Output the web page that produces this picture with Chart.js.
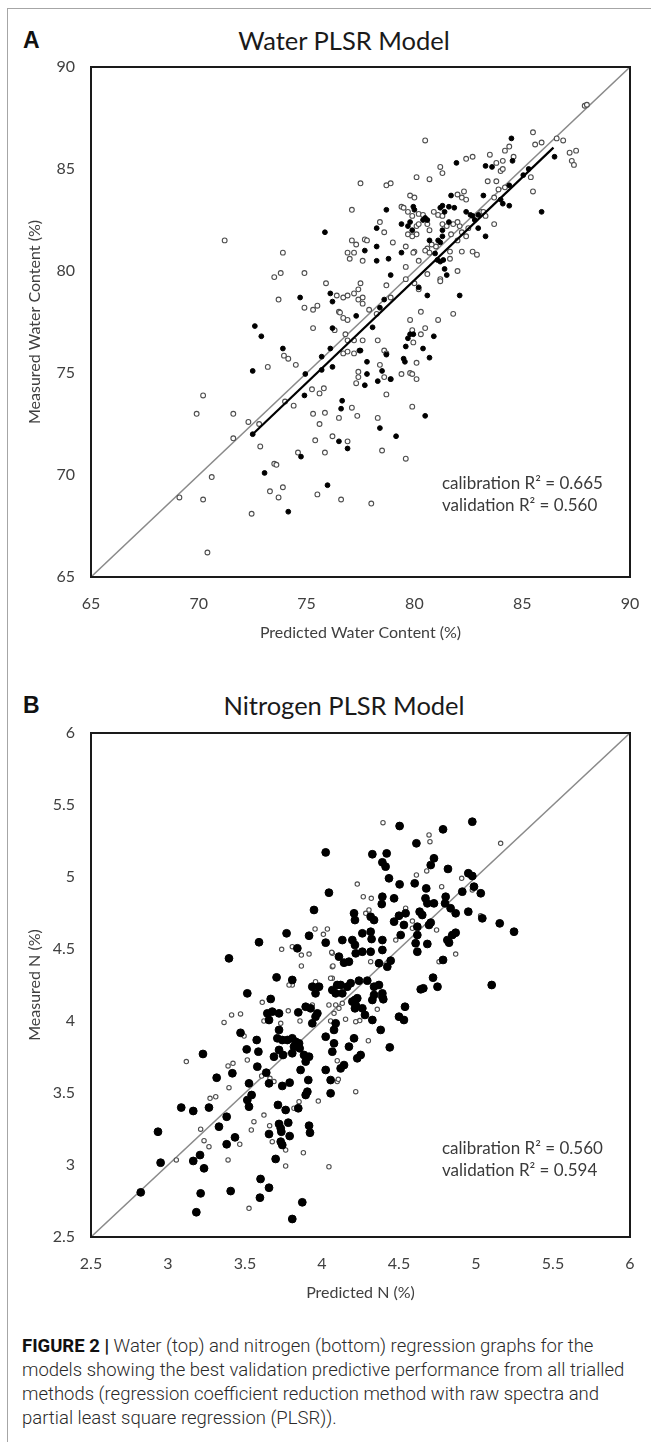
<!DOCTYPE html>
<html>
<head>
<meta charset="utf-8">
<title>Water and nitrogen PLSR models</title>
<script src="https://cdn.jsdelivr.net/npm/chart.js@4.4.1/dist/chart.umd.min.js"></script>
<style>
  html, body { margin: 0; padding: 0; background: #fff; }
  body { width: 651px; height: 1442px; position: relative; overflow: hidden; font-family: Lato, "Open Sans", sans-serif; }
  .frame { position: absolute; left: 7px; top: 8px; width: 700px; height: 1500px; border: 1.5px solid #a6a6a6; }
  .panel { position: absolute; left: 23px; font-family: "Liberation Sans", Arial, sans-serif; font-weight: bold; font-size: 23px; color: #111; }
  .title { position: absolute; left: 194px; width: 300px; text-align: center; font-size: 25.5px; color: #1a1a1a; line-height: 28px; }
  canvas { position: absolute; left: 0; }
  .note { position: absolute; left: 442px; font-size: 17px; line-height: 22px; color: #3a3a3a; white-space: nowrap; }
  .caption { position: absolute; left: 22px; top: 1334px; font-family: Roboto, sans-serif; font-weight: 300; font-size: 18.5px; line-height: 24px; color: #2a2a2a; white-space: nowrap; }
  .caption b { font-weight: 700; color: #111; }
</style>
</head>
<body>
<div class="frame"></div>

<div class="panel" style="top:27px">A</div>
<div class="title" style="top:26px">Water PLSR Model</div>
<canvas id="waterChart" width="651" height="660" style="top:0"></canvas>
<div class="note" style="top:472px">calibration R² = 0.665<br>validation R² = 0.560</div>

<div class="panel" style="top:692px">B</div>
<div class="title" style="top:691px">Nitrogen PLSR Model</div>
<canvas id="nitrogenChart" width="651" height="660" style="top:660px"></canvas>
<div class="note" style="top:1137px">calibration R² = 0.560<br>validation R² = 0.594</div>

<div class="caption"><b>FIGURE 2 |</b> Water (top) and nitrogen (bottom) regression graphs for the<br>models showing the best validation predictive performance from all trialled<br>methods (regression coefficient reduction method with raw spectra and<br>partial least square regression (PLSR)).</div>

<script>
// tick values
const waterTicks = [65, 70, 75, 80, 85, 90];
const nitroTicks = [2.5, 3, 3.5, 4, 4.5, 5, 5.5, 6];

// water panel: [predicted, measured]
const waterOpen = [
  [71.2,81.5],[77.1,83.0],[73.9,80.9],[73.8,79.9],[73.5,79.7],[74.9,79.9],[75.9,79.4],[73.7,78.6],
  [74.9,78.2],[75.3,78.1],[75.5,78.3],[76.4,78.8],[76.7,78.7],[76.9,78.8],[77.1,81.5],[77.3,81.3],
  [76.9,80.9],[77.2,80.9],[77.0,80.6],[77.5,79.4],[77.4,79.1],[77.5,84.3],
  [87.9,88.1],[88.0,88.15],[80.5,86.4],[85.5,86.8],[85.6,86.2],[85.9,86.3],[86.6,86.5],[86.9,86.4],
  [87.2,85.8],[87.5,85.9],[87.3,85.4],[87.4,85.2],[84.2,85.9],[84.4,86.1],[83.5,85.7],[84.1,85.4],
  [84.6,85.6],[83.8,85.3],[84.0,84.9],[84.1,85.0],[82.4,85.5],[82.7,85.6],[81.2,85.1],[81.3,84.8],
  [80.1,84.6],[80.7,84.5],[78.7,84.2],[78.9,84.3],[83.4,84.4],[83.8,84.4],[84.2,84.1],[83.9,84.0],
  [85.4,84.6],[85.5,83.9],[83.7,83.6],[79.8,83.7],[80.0,83.6],[82.0,83.75],[82.3,83.9],[82.2,83.6],
  [82.4,83.5],[79.4,83.15],[79.5,83.1],[79.7,82.9],[79.9,82.7],[80.2,82.8],[80.4,82.75],[80.9,82.9],
  [81.1,82.75],[81.3,82.7],[78.4,82.4],[78.6,81.9],[80.1,82.2],[80.2,82.3],[80.6,82.3],[80.7,82.0],
  [79.7,81.8],[80.1,81.8],[79.9,81.7],[81.3,82.3],[81.5,82.2],[81.8,82.3],[82.1,82.2],[82.0,82.4],
  [81.7,81.8],[83.1,82.9],[83.2,82.9],[83.3,82.7],[83.7,82.3],[82.5,82.1],[82.2,81.9],[82.4,81.7],
  [82.0,81.5],[81.0,81.2],[80.8,81.3],[80.6,81.1],[77.7,81.55],[77.8,81.5],[77.6,80.5],
  [79.0,81.4],[79.6,81.2],[80.0,80.95],[80.2,80.5],[79.6,80.2],[79.95,80.9],[80.5,81.0],[80.7,80.9],
  [81.65,80.95],[81.65,80.6],[82.2,80.95],[82.7,80.95],[82.9,80.8],[82.0,80.0],[81.2,79.6],
  [78.7,79.3],[79.6,79.6],[80.0,79.4],[80.2,79.1],[80.6,79.85],[81.2,79.5],[78.9,78.7],[77.2,78.9],
  [77.6,78.7],[76.5,78.0],[77.6,78.4],[77.9,78.1],[78.25,77.9],[77.4,78.6],
  [80.3,78.0],[79.8,77.6],[81.1,77.6],[81.8,77.9],
  [70.4,66.2],[69.1,68.9],[70.2,68.8],[72.45,68.1],[70.6,69.9],[70.2,73.9],[69.9,73.0],[71.6,73.0],
  [71.6,71.8],[72.3,72.6],[72.8,72.5],[72.85,71.4],[73.5,70.55],[73.6,70.5],[73.3,69.2],[73.9,69.4],
  [73.7,68.9],[75.5,69.05],[76.6,68.8],[74.6,71.1],[75.85,71.1],[75.4,71.7],[76.9,71.65],[76.2,71.9],
  [75.6,72.5],[75.3,73.0],[75.85,73.05],[76.5,72.8],[77.1,73.3],[77.35,72.9],[75.25,74.2],[75.8,74.25],
  [75.6,74.0],[74.4,73.4],[74.0,73.6],[77.3,74.5],[77.4,74.8],[73.2,75.3],[74.5,75.4],[73.95,75.85],
  [74.15,75.7],[75.3,77.2],[76.3,77.1],[76.55,77.96],[76.7,77.7],[76.9,77.6],[76.8,76.9],[76.9,76.6],
  [76.7,75.96],[76.9,76.05],[77.2,75.96],[77.2,76.6],
  [80.5,77.2],[80.3,76.9],[79.9,77.1],[79.95,76.5],[80.1,75.5],[79.4,74.95],[79.8,75.0],[79.9,74.95],
  [80.1,74.7],[78.7,73.95],[78.4,75.4],[78.6,74.8],[78.9,74.7],[78.3,76.6],[78.6,76.1],[78.7,75.96],
  [77.4,75.06],[77.6,76.6],[78.3,72.8],[78.5,71.2],[79.6,70.8],[79.9,73.35],[78.0,68.6]
];
const waterFilled = [
  [75.85,81.9],[74.7,78.7],[76.2,78.5],
  [84.5,86.5],[86.5,85.6],[84.55,85.4],[83.3,85.15],[83.6,85.1],[81.95,85.3],[84.4,84.2],[85.05,84.7],
  [85.3,85.0],[83.2,83.7],[84.0,83.5],[84.1,83.3],[84.4,83.2],[85.9,82.9],[81.7,83.7],[81.3,83.2],
  [81.2,83.1],[81.4,82.9],[81.6,83.15],[81.85,83.1],[79.95,83.15],[80.0,83.0],[80.5,82.6],[80.4,82.5],
  [80.6,82.5],[78.7,83.0],[79.4,82.3],[79.8,82.4],[79.7,82.2],[78.25,82.1],[79.9,82.0],[80.7,81.5],
  [81.3,82.0],[81.6,82.4],[82.4,82.9],[82.6,82.75],[82.7,82.7],[82.96,82.75],[82.96,82.1],[83.3,81.7],
  [82.8,82.5],[81.1,81.5],[81.2,81.4],[81.3,81.7],[77.7,81.0],[78.25,81.2],[78.25,80.5],[78.8,80.6],
  [79.4,80.9],[80.96,80.86],[81.07,80.54],[81.2,80.46],[81.34,80.54],[81.4,80.1],[81.5,79.8],
  [78.9,79.8],[80.2,79.2],[80.6,78.8],[82.1,78.8],[76.1,78.9],[78.6,78.6],[78.4,78.2],
  [74.15,68.2],[72.5,72.0],[73.05,70.1],[75.97,69.5],[74.74,70.9],[76.5,71.65],[76.9,71.3],[76.65,73.64],
  [76.6,73.25],[74.9,73.9],[72.5,75.1],[74.94,74.95],[75.7,75.15],[76.2,75.3],[75.7,75.8],[76.1,76.2],
  [73.9,76.2],[72.6,77.3],[72.9,76.8],[76.2,77.2],[77.3,77.8],[77.45,76.1],
  [80.9,76.8],[79.8,76.9],[79.7,76.7],[79.95,76.9],[80.4,76.2],[80.7,75.75],[79.6,76.3],[79.5,75.7],
  [79.56,75.55],[78.5,75.1],[78.9,74.7],[78.7,75.9],[77.8,75.55],[77.8,74.95],[78.3,74.6],[77.7,74.4],
  [77.5,76.1],[78.06,77.24],[78.4,72.3],[79.15,71.9],[80.5,72.9]
];
const waterFit = [[72.45,71.95],[86.45,86.05]];

// nitrogen panel: [predicted, measured]
const nitroOpen = [
  [4.396,5.377],[4.695,5.292],[4.701,5.245],[5.16,5.234],[4.613,5.014],[4.68,5.042],[4.229,4.951],[4.777,4.933],
  [4.907,4.991],[4.976,4.91],[4.268,4.863],[4.32,4.852],[4.543,4.783],[4.305,4.771],[4.284,4.748],[5.03,4.731],
  [4.587,4.694],[4.587,4.644],[4.744,4.632],[4.868,4.465],[4.76,4.412],[4.479,4.562],[4.316,4.412],[4.067,4.47],
  [4.067,4.377],[4.067,4.297],
  [3.738,4.498],[3.807,4.516],[3.866,4.458],[3.916,4.465],[3.866,4.382],[3.955,4.639],[4.009,4.602],[4.035,4.639],
  [4.063,4.477],[4.071,4.382],[4.056,4.297],[3.958,4.273],[3.807,4.25],
  [4.301,3.863],[4.219,3.509],[4.359,4.081],[4.245,4.003],[4.153,4.012],[4.089,4.111],[4.078,4.053],[4.11,4.088],
  [4.132,4.123],[4.099,3.724],[4.099,3.579],[4.045,2.988],
  [3.612,4.13],[3.781,4.071],[3.623,4.0],[3.732,3.984],[3.857,4.0],[3.364,3.99],[3.413,4.042],[3.471,4.049],
  [3.494,3.896],[3.515,3.729],[3.608,3.618],[3.662,3.602],[3.688,3.579],[3.851,3.44],[3.976,3.444],[3.623,3.347],
  [3.558,3.301],[3.541,3.243],[3.66,3.273],[3.818,3.394],[3.677,3.162],[3.764,3.104],[3.879,3.085],[3.764,2.993],
  [3.526,2.699],[3.054,3.035],[3.212,3.249],[3.234,3.169],[3.266,3.127],[3.39,3.035],[3.466,3.144],[3.119,3.718],
  [3.273,3.463],[3.31,3.474],[3.396,3.537],[3.39,3.688],[3.422,3.706],[3.786,4.25],[3.937,4.111],[4.045,4.111],
  [4.056,4.0],[4.219,3.995],[4.106,3.595]
];
const nitroFilled = [
  [4.504,5.354],[4.786,5.331],[4.976,5.384],[4.613,5.234],[4.327,5.158],[4.42,5.164],[4.392,5.102],[4.413,5.072],
  [4.727,5.13],[4.706,5.083],[4.818,5.056],[4.435,4.991],[4.504,4.949],[4.602,4.956],[4.677,4.921],[4.95,5.026],
  [4.976,5.007],[4.987,4.933],[4.911,4.898],[5.031,4.887],[4.045,4.891],[4.392,4.863],[4.388,4.812],[4.468,4.852],
  [4.672,4.852],[4.684,4.817],[4.727,4.817],[4.803,4.863],[4.799,4.817],[4.208,4.748],[4.214,4.701],[4.316,4.724],
  [4.338,4.701],[4.5,4.731],[4.543,4.748],[4.634,4.759],[4.651,4.736],[4.835,4.783],[4.868,4.748],[4.95,4.759],
  [5.041,4.713],[5.154,4.678],[5.247,4.62],[5.102,4.25],[4.468,4.69],[4.532,4.667],[4.511,4.597],[4.619,4.655],
  [4.619,4.597],[4.695,4.667],[4.706,4.683],[4.608,4.54],[4.684,4.535],[4.619,4.481],[4.868,4.613],[4.846,4.597],
  [4.814,4.562],[4.825,4.544],[4.786,4.424],[4.721,4.301],[4.75,4.238],[4.641,4.22],[4.658,4.227],[4.132,4.562],
  [4.197,4.562],[4.214,4.528],[4.262,4.609],[4.316,4.62],[4.322,4.569],[4.392,4.562],[4.392,4.493],[4.446,4.419],
  [4.424,4.377],[4.37,4.401],[4.316,4.481],[4.262,4.481],[4.219,4.47],[4.175,4.412],[4.143,4.405],[4.11,4.447],
  [4.121,4.25],[4.164,4.238],[4.24,4.28],[4.294,4.28],[4.338,4.238],[4.37,4.25],[4.392,4.169],[4.089,4.192],
  [4.229,4.158],
  [4.024,5.171],[3.948,4.771],[4.024,4.544],[3.916,4.592],[3.77,4.609],[3.591,4.547],[3.396,4.435],[3.84,4.505],
  [3.705,4.303],
  [3.515,4.192],[3.667,4.153],[3.645,4.053],[3.677,4.065],[3.721,4.053],[3.656,4.007],[3.846,4.06],[3.894,4.099],
  [3.926,4.088],[3.958,4.03],[3.937,3.984],[3.97,4.053],[3.471,3.918],[3.576,3.868],[3.511,3.803],[3.587,3.787],
  [3.58,3.683],[3.721,3.938],[3.71,3.88],[3.742,3.868],[3.721,3.799],[3.775,3.868],[3.807,3.88],[3.829,3.856],
  [3.851,3.845],[3.818,3.822],[3.855,3.81],[3.747,3.764],[3.688,3.752],[3.807,3.776],[3.883,3.764],[3.638,3.641],
  [3.656,3.567],[3.742,3.549],[3.79,3.572],[3.861,3.66],[3.911,3.59],[3.905,3.509],[3.894,3.486],[3.846,3.394],
  [3.764,3.382],[3.714,3.417],[3.526,3.567],[3.515,3.451],[3.526,3.405],[3.543,3.486],[3.721,3.285],[3.781,3.294],
  [3.732,3.255],[3.736,3.231],[3.656,3.215],[3.79,3.201],[3.916,3.273],[3.922,3.224],[3.732,3.162],[3.742,3.139],
  [3.699,3.042],[3.601,2.903],[3.656,2.842],[3.597,2.773],[3.872,2.741],[3.807,2.625],[3.407,2.819],[3.212,2.803],
  [3.184,2.672],[2.823,2.81],[2.935,3.231],[2.952,3.016],[3.164,3.028],[3.234,2.977],[3.208,3.069],[3.331,3.266],
  [3.381,3.144],[3.435,3.192],[3.381,3.335],[3.086,3.399],[3.164,3.375],[3.266,3.399],[3.316,3.606],[3.418,3.637],
  [3.227,3.771],[3.807,4.285],[3.937,4.238],[3.958,4.192],[3.981,4.238],[4.067,4.215],[4.132,4.192],[4.099,4.25],
  [4.186,4.262],[4.214,4.146],[4.214,4.088],[4.024,3.891],[4.024,3.66],[3.894,3.718],[3.916,3.752],
  [4.5,4.03],[4.532,4.007],[4.539,4.099],[4.44,3.817],[4.381,3.938],[4.327,4.007],[4.279,4.042],[4.262,4.088],
  [4.392,4.192],[4.398,4.151],[4.327,4.146],[4.338,4.181],[4.197,4.135],[4.219,4.111],[4.208,3.88],[4.175,3.822],
  [4.251,3.764],[4.229,3.741],[4.143,3.694],[4.121,3.671],[4.078,3.845],[4.067,3.787],[4.056,3.59],[4.056,3.498],
  [4.078,3.938],[4.089,3.984]
];

const toPoints = arr => arr.map(([x, y]) => ({ x, y }));

// black box round the plotting area
const plotFrame = {
  id: 'plotFrame',
  afterDraw(chart) {
    const { ctx, chartArea: a } = chart;
    ctx.save();
    ctx.strokeStyle = '#1a1a1a';
    ctx.lineWidth = 2;
    ctx.strokeRect(a.left, a.top, a.right - a.left, a.bottom - a.top);
    ctx.restore();
  }
};

function axis(ticks, titleText, horizontal) {
  return {
    type: 'linear',
    min: ticks[0],
    max: ticks[ticks.length - 1],
    grid: { display: false },
    border: { display: false },
    afterBuildTicks: scale => { scale.ticks = ticks.map(value => ({ value })); },
    afterFit: scale => {
      if (horizontal) scale.height = 83;
      else scale.width = 91;
    },
    ticks: {
      padding: horizontal ? 9 : 8,
      maxRotation: 0,
      color: '#404040',
      font: { family: 'Lato', size: 16 },
      callback: v => String(v)
    },
    title: {
      display: true,
      text: titleText,
      color: '#404040',
      font: { family: 'Lato', size: 16 },
      padding: horizontal ? { top: 0, bottom: 18 } : { top: 25, bottom: 0 }
    }
  };
}

function renderPanel(id, cfg) {
  const lo = cfg.ticks[0];
  const hi = cfg.ticks[cfg.ticks.length - 1];
  const datasets = [];
  if (cfg.fit) {
    datasets.push({
      data: toPoints(cfg.fit), showLine: true, pointRadius: 0,
      borderColor: '#000', borderWidth: 2.2
    });
  }
  datasets.push({
    data: toPoints(cfg.filled),
    pointRadius: cfg.filledRadius, pointBorderWidth: 1,
    pointBackgroundColor: '#000', pointBorderColor: '#000'
  });
  datasets.push({
    data: toPoints(cfg.open),
    pointRadius: cfg.openRadius, pointBorderWidth: 1.1,
    pointBackgroundColor: '#fff', pointBorderColor: '#4d4d4d'
  });
  datasets.push({
    data: toPoints([[lo, lo], [hi, hi]]), showLine: true, pointRadius: 0,
    borderColor: '#8a8a8a', borderWidth: 1.6
  });

  return new Chart(document.getElementById(id), {
    type: 'scatter',
    data: { datasets },
    options: {
      responsive: false,
      animation: false,
      events: [],
      clip: false,
      layout: { padding: { top: cfg.top, right: 21, bottom: 0, left: 0 } },
      plugins: {
        legend: { display: false },
        tooltip: { enabled: false }
      },
      scales: {
        x: axis(cfg.ticks, cfg.xTitle, true),
        y: axis(cfg.ticks, cfg.yTitle, false)
      }
    },
    plugins: [plotFrame]
  });
}

renderPanel('waterChart', {
  ticks: waterTicks, open: waterOpen, filled: waterFilled, fit: waterFit,
  openRadius: 2.4, filledRadius: 2.4, top: 67,
  xTitle: 'Predicted Water Content (%)', yTitle: 'Measured Water Content (%)'
});

renderPanel('nitrogenChart', {
  ticks: nitroTicks, open: nitroOpen, filled: nitroFilled, fit: null,
  openRadius: 2.2, filledRadius: 3.9, top: 73,
  xTitle: 'Predicted N (%)', yTitle: 'Measured N (%)'
});
</script>
</body>
</html>
